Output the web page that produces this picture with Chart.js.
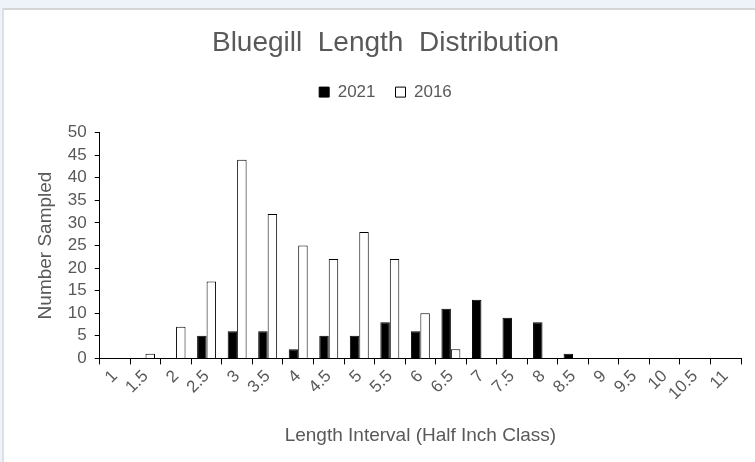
<!DOCTYPE html>
<html>
<head>
<meta charset="utf-8">
<script src="https://cdn.jsdelivr.net/npm/chart.js@4"></script>
<style>
body{margin:0;background:#eef2f9;width:755px;height:462px;overflow:hidden;}
#frame{position:absolute;left:2px;top:8px;width:800px;height:500px;background:#fff;border-top:2px solid #d6d6d6;border-left:2px solid #dde0e6;}
#wrap{position:absolute;left:0;top:0;width:755px;height:462px;}
</style>
</head>
<body>
<div id="frame"></div>
<div id="wrap"><canvas id="myChart" width="755" height="462"></canvas></div>
<script>
// half inch classes
const lengthClasses = ["1","1.5","2","2.5","3","3.5","4","4.5","5","5.5","6","6.5","7","7.5","8","8.5","9","9.5","10","10.5","11"];
const count2021 = [0,0,0,5,6,6,2,5,5,8,6,11,13,9,8,1,0,0,0,0,0];
const count2016 = [0,1,7,17,44,32,25,22,28,22,10,2,0,0,0,0,0,0,0,0,0];
const yTicks = [0,5,10,15,20,25,30,35,40,45,50];

const grey = '#595959';
Chart.defaults.font.family = "'Liberation Sans', Arial, sans-serif";
Chart.defaults.color = grey;

// extra room under the legend
const legendGap = {
    id:'legendGap',
    beforeInit(chart){
        const fit = chart.legend.fit;
        chart.legend.fit = function(){
            fit.call(this);
            this.height += 22;
        };
    }
};

var ctx = document.getElementById('myChart').getContext('2d');
var chart = new Chart(ctx,{
    type:'bar',
    data:{
        labels:lengthClasses,
        datasets:[{
            label:'2021',
            data:count2021,
            backgroundColor:'#000',
            borderColor:'#000',
            borderWidth:1
        },{
            label:'2016',
            data:count2016,
            backgroundColor:'#fff',
            borderColor:'#000',
            borderWidth:1
        }]
    },
    options:{
        responsive:false,
        animation:false,
        devicePixelRatio:1,
        layout:{padding:{left:30,right:14,top:22,bottom:11}},
        datasets:{bar:{categoryPercentage:0.62,barPercentage:1}},
        plugins:{
            title:{display:true,text:'Bluegill  Length  Distribution',color:grey,
                font:{size:28,weight:'normal'},padding:{top:4,bottom:4}},
            legend:{position:'top',labels:{boxWidth:10,boxHeight:10,color:grey,
                font:{size:17},padding:20}},
            tooltip:{enabled:false}
        },
        scales:{
            x:{
                offset:true,
                grid:{offset:true,drawOnChartArea:false,drawTicks:true,tickLength:6,color:'#000'},
                border:{color:'#000',width:1},
                ticks:{color:grey,font:{size:17},maxRotation:45,minRotation:45,autoSkip:false,padding:2},
                title:{display:true,text:'Length Interval (Half Inch Class)',color:grey,font:{size:19},padding:{top:18}}
            },
            y:{
                min:0,max:50,
                afterBuildTicks:function(axis){axis.ticks=yTicks.map(v=>({value:v}));},
                grid:{drawOnChartArea:false,drawTicks:true,tickLength:5,color:'#000'},
                border:{color:'#000',width:1},
                ticks:{color:grey,font:{size:17},padding:8,autoSkip:false},
                title:{display:true,text:'Number Sampled',color:grey,font:{size:19},padding:{bottom:3}}
            }
        }
    },
    plugins:[legendGap]
});
</script>
</body>
</html>
